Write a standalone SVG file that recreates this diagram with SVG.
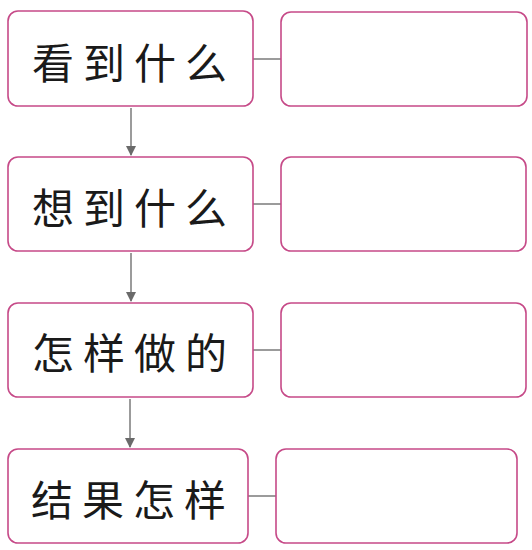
<svg xmlns="http://www.w3.org/2000/svg" width="532" height="550" viewBox="0 0 532 550">
<style>
.box{fill:#fff;stroke:#c64a88;stroke-width:1.6}
.lbl{font-family:"Noto Sans CJK SC","Noto Sans CJK JP",sans-serif;font-size:42px;font-weight:400;fill:#1a1a1a;text-anchor:middle;dominant-baseline:central;letter-spacing:9px}
.con{stroke:#7a7a7a;stroke-width:1.5;fill:none}
</style>
<defs>
<marker id="ah" viewBox="0 0 10 10" refX="9" refY="5" markerWidth="10" markerHeight="10" markerUnits="userSpaceOnUse" orient="auto">
<path d="M0,0 L10,5 L0,10 Z" fill="#6a6a6a"/>
</marker>
</defs>
<rect width="532" height="550" fill="#fff"/>
<g id="connectors">
<line class="con" x1="253" y1="59" x2="281" y2="59"/>
<line class="con" x1="253" y1="204" x2="281" y2="204"/>
<line class="con" x1="253" y1="350" x2="281" y2="350"/>
<line class="con" x1="248" y1="496" x2="276" y2="496"/>
<line class="con" x1="131" y1="108" x2="131" y2="155" marker-end="url(#ah)"/>
<line class="con" x1="131" y1="253" x2="131" y2="301" marker-end="url(#ah)"/>
<line class="con" x1="130" y1="399" x2="130" y2="447" marker-end="url(#ah)"/>
</g>
<g id="n1"><rect class="box" x="8" y="11" width="245" height="95" rx="10"/><text class="lbl" x="134" y="60">看到什么</text></g>
<g id="a1"><rect class="box" x="281" y="12" width="246" height="94" rx="10"/></g>
<g id="n2"><rect class="box" x="8" y="157" width="245" height="94" rx="10"/><text class="lbl" x="134" y="205">想到什么</text></g>
<g id="a2"><rect class="box" x="281" y="157" width="245" height="94" rx="10"/></g>
<g id="n3"><rect class="box" x="8" y="303" width="245" height="94" rx="10"/><text class="lbl" x="134" y="350">怎样做的</text></g>
<g id="a3"><rect class="box" x="281" y="303" width="245" height="94" rx="10"/></g>
<g id="n4"><rect class="box" x="8" y="449" width="240" height="94" rx="10"/><text class="lbl" x="133" y="497">结果怎样</text></g>
<g id="a4"><rect class="box" x="276" y="449" width="241" height="94" rx="10"/></g>
</svg>
